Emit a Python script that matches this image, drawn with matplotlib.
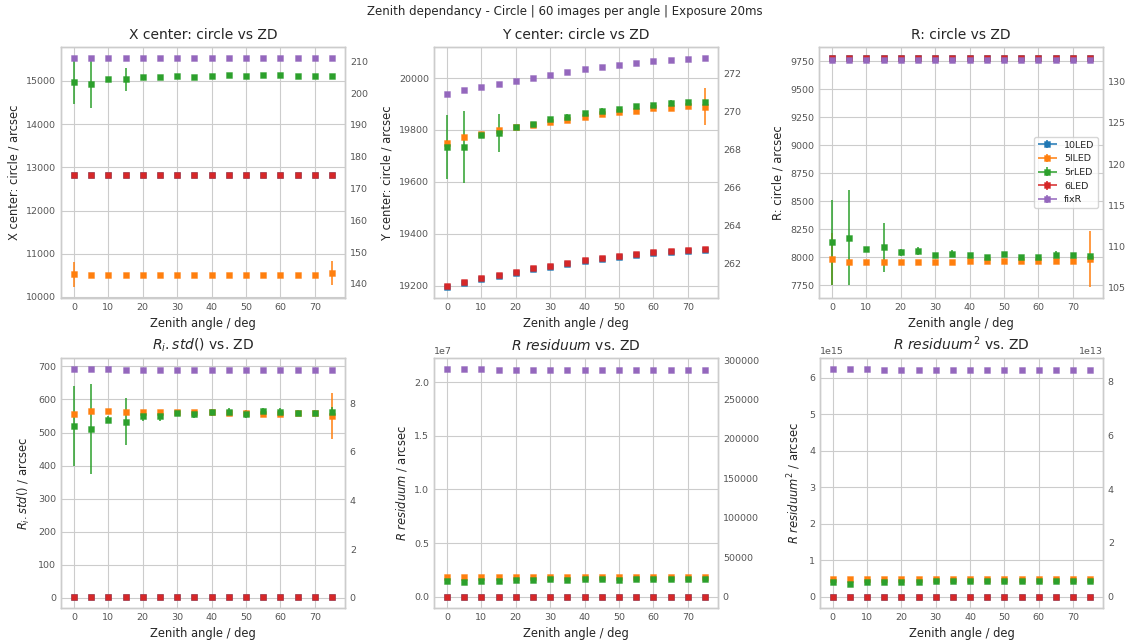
import numpy as np
import matplotlib
matplotlib.use('Agg')
import matplotlib.pyplot as plt
from matplotlib.colors import to_rgba
from matplotlib.container import ErrorbarContainer
from matplotlib.legend_handler import HandlerErrorbar

plt.style.use('seaborn-v0_8-whitegrid')
plt.rcParams['font.family'] = ['DejaVu Sans']

# zenith angles / deg
zd = [0, 5, 10, 15, 20, 25, 30, 35, 40, 45, 50, 55, 60, 65, 70, 75]
labels = ['10LED', '5lLED', '5rLED', '6LED', 'fixR']
colors = ['C0', 'C1', 'C2', 'C3', 'C4']

# arcsec per pixel, for the right hand axis
plate_scale = 73.6

# X center
xc_10led = [12815, 12815, 12815, 12815, 12815, 12815, 12815, 12815, 12815, 12815, 12815, 12815, 12815, 12815, 12815, 12815]
xc_5lled = [10530, 10515, 10515, 10515, 10515, 10515, 10515, 10515, 10515, 10515, 10515, 10515, 10515, 10515, 10515, 10554]
xc_5rled = [14977, 14938, 15055, 15039, 15086, 15086, 15125, 15101, 15125, 15148, 15125, 15148, 15148, 15125, 15125, 15125]
xc_6led = [12816, 12816, 12816, 12816, 12816, 12816, 12816, 12816, 12816, 12816, 12816, 12816, 12816, 12816, 12816, 12816]
xc_fixr = [15521, 15521, 15521, 15521, 15521, 15521, 15521, 15521, 15521, 15521, 15521, 15521, 15521, 15521, 15521, 15521]
xc_5lled_err = [290, 5, 5, 5, 5, 5, 5, 5, 5, 5, 5, 5, 5, 5, 5, 285]
xc_5rled_err = [500, 560, 30, 270, 20, 20, 15, 15, 15, 15, 15, 15, 15, 15, 15, 15]

# Y center
yc_10led = [19196, 19211, 19226, 19237, 19250, 19262, 19273, 19284, 19294, 19302, 19309, 19316, 19324, 19329, 19335, 19338]
yc_5lled = [19750, 19772, 19786, 19799, 19811, 19821, 19830, 19840, 19851, 19860, 19869, 19875, 19883, 19886, 19892, 19889]
yc_5rled = [19735, 19735, 19780, 19788, 19813, 19824, 19844, 19851, 19865, 19875, 19880, 19892, 19898, 19904, 19906, 19909]
yc_6led = [19200, 19215, 19230, 19241, 19254, 19266, 19277, 19288, 19298, 19306, 19313, 19320, 19328, 19333, 19339, 19342]
yc_fixr = [19940, 19953, 19966, 19977, 19989, 20002, 20013, 20025, 20034, 20044, 20049, 20057, 20065, 20070, 20072, 20076]
yc_5lled_err = [10, 10, 5, 5, 5, 5, 5, 5, 5, 5, 5, 5, 5, 5, 5, 71]
yc_5rled_err = [124, 138, 8, 73, 6, 6, 6, 10, 10, 8, 8, 6, 6, 10, 6, 6]

# R
r_10led = [9774, 9774, 9774, 9774, 9774, 9774, 9774, 9774, 9774, 9774, 9774, 9774, 9774, 9774, 9774, 9774]
r_5lled = [7987, 7958, 7958, 7958, 7958, 7958, 7958, 7958, 7967, 7967, 7967, 7967, 7967, 7967, 7967, 7987]
r_5rled = [8136, 8177, 8079, 8091, 8047, 8056, 8023, 8032, 8023, 8005, 8032, 8005, 8005, 8023, 8023, 8014]
r_6led = [9774, 9774, 9774, 9774, 9774, 9774, 9774, 9774, 9774, 9774, 9774, 9774, 9774, 9774, 9774, 9774]
r_fixr = [9756, 9756, 9756, 9756, 9756, 9756, 9756, 9756, 9756, 9756, 9756, 9756, 9756, 9756, 9756, 9756]
r_5lled_err = [230, 5, 5, 5, 5, 5, 5, 5, 5, 5, 5, 5, 5, 5, 5, 247]
r_5rled_err = [380, 423, 15, 218, 30, 37, 15, 30, 15, 15, 15, 15, 15, 30, 15, 15]

# R_i.std()
s_10led = [4, 4, 4, 4, 4, 4, 4, 4, 4, 4, 4, 4, 4, 4, 4, 4]
s_5lled = [555, 566, 566, 563, 563, 563, 563, 563, 563, 560, 560, 557, 557, 560, 560, 549]
s_5rled = [520, 511, 539, 533, 550, 549, 559, 556, 561, 563, 556, 566, 563, 559, 559, 561]
s_6led = [4, 4, 4, 4, 4, 4, 4, 4, 4, 4, 4, 4, 4, 4, 4, 4]
s_fixr = [691, 691, 691, 688, 688, 688, 688, 688, 688, 688, 688, 688, 688, 688, 688, 688]
s_5lled_err = [5, 5, 5, 5, 5, 5, 5, 5, 5, 5, 5, 5, 5, 5, 5, 70]
s_5rled_err = [120, 136, 10, 70, 15, 15, 10, 12, 10, 10, 12, 8, 10, 10, 10, 15]

# R residuum
res_10led = [2e3, 2e3, 2e3, 2e3, 2e3, 2e3, 2e3, 2e3, 2e3, 2e3, 2e3, 2e3, 2e3, 2e3, 2e3, 2e3]
res_5lled = [1.80e6, 1.80e6, 1.80e6, 1.80e6, 1.80e6, 1.80e6, 1.80e6, 1.80e6, 1.80e6, 1.80e6, 1.80e6, 1.80e6, 1.80e6, 1.80e6, 1.80e6, 1.80e6]
res_5rled = [1.46e6, 1.40e6, 1.46e6, 1.46e6, 1.55e6, 1.55e6, 1.65e6, 1.55e6, 1.65e6, 1.65e6, 1.55e6, 1.65e6, 1.65e6, 1.65e6, 1.65e6, 1.65e6]
res_6led = [2e3, 2e3, 2e3, 2e3, 2e3, 2e3, 2e3, 2e3, 2e3, 2e3, 2e3, 2e3, 2e3, 2e3, 2e3, 2e3]
res_fixr = [21.21e6, 21.21e6, 21.21e6, 21.12e6, 21.12e6, 21.12e6, 21.12e6, 21.12e6, 21.12e6, 21.12e6, 21.12e6, 21.12e6, 21.12e6, 21.12e6, 21.12e6, 21.12e6]
res_5rled_err = [1e5, 1.5e5, 5e4, 5e4, 3e4, 3e4, 3e4, 3e4, 3e4, 3e4, 3e4, 3e4, 3e4, 3e4, 3e4, 3e4]

# R residuum^2
res2_10led = [1e12, 1e12, 1e12, 1e12, 1e12, 1e12, 1e12, 1e12, 1e12, 1e12, 1e12, 1e12, 1e12, 1e12, 1e12, 1e12]
res2_5lled = [0.48e15, 0.48e15, 0.48e15, 0.48e15, 0.48e15, 0.48e15, 0.48e15, 0.48e15, 0.48e15, 0.48e15, 0.48e15, 0.48e15, 0.48e15, 0.48e15, 0.48e15, 0.48e15]
res2_5rled = [0.39e15, 0.36e15, 0.41e15, 0.41e15, 0.41e15, 0.41e15, 0.44e15, 0.44e15, 0.44e15, 0.44e15, 0.44e15, 0.44e15, 0.44e15, 0.44e15, 0.44e15, 0.44e15]
res2_6led = [1e12, 1e12, 1e12, 1e12, 1e12, 1e12, 1e12, 1e12, 1e12, 1e12, 1e12, 1e12, 1e12, 1e12, 1e12, 1e12]
res2_fixr = [6.23e15, 6.23e15, 6.23e15, 6.20e15, 6.20e15, 6.20e15, 6.20e15, 6.20e15, 6.20e15, 6.20e15, 6.20e15, 6.20e15, 6.20e15, 6.20e15, 6.20e15, 6.20e15]
res2_5rled_err = [3e13, 5e13, 1e13, 1e13, 1e13, 1e13, 1e13, 1e13, 1e13, 1e13, 1e13, 1e13, 1e13, 1e13, 1e13, 1e13]

zeros = [0] * len(zd)

panels = [
	('X center: circle vs ZD', 'X center: circle / arcsec',
	 [xc_10led, xc_5lled, xc_5rled, xc_6led, xc_fixr],
	 [zeros, xc_5lled_err, xc_5rled_err, zeros, zeros]),
	('Y center: circle vs ZD', 'Y center: circle / arcsec',
	 [yc_10led, yc_5lled, yc_5rled, yc_6led, yc_fixr],
	 [zeros, yc_5lled_err, yc_5rled_err, zeros, zeros]),
	('R: circle vs ZD', 'R: circle / arcsec',
	 [r_10led, r_5lled, r_5rled, r_6led, r_fixr],
	 [zeros, r_5lled_err, r_5rled_err, zeros, zeros]),
	(r'$R_i.std()$ vs. ZD', r'$R_i.std()$ / arcsec',
	 [s_10led, s_5lled, s_5rled, s_6led, s_fixr],
	 [zeros, s_5lled_err, s_5rled_err, zeros, zeros]),
	(r'$R\ residuum$ vs. ZD', r'$R\ residuum$ / arcsec',
	 [res_10led, res_5lled, res_5rled, res_6led, res_fixr],
	 [zeros, zeros, res_5rled_err, zeros, zeros]),
	(r'$R\ residuum^2$ vs. ZD', r'$R\ residuum^2$ / arcsec',
	 [res2_10led, res2_5lled, res2_5rled, res2_6led, res2_fixr],
	 [zeros, zeros, res2_5rled_err, zeros, zeros]),
]

W, H = 1129., 643.
# axes boxes in pixels: left, top, right, bottom
boxes = [(61, 47, 345, 298), (434, 47, 718, 298), (819, 47, 1103, 298),
	(61, 358, 345, 608), (434, 358, 718, 608), (820, 358, 1103, 608)]

tick_grey = '#555555'

fig = plt.figure(figsize=(W / 100, H / 100), dpi=100)
fig.suptitle('Zenith dependancy - Circle | 60 images per angle | Exposure 20ms',
	fontsize=8.5, y=1 - 12 / H, va='center')

for i, (title, ylabel, series, errs) in enumerate(panels):
	l, t, r, b = boxes[i]
	ax = fig.add_axes([l / W, 1 - b / H, (r - l) / W, (b - t) / H])
	for y, e, lab, c in zip(series, errs, labels, colors):
		ax.errorbar(zd, y, xerr=zeros, yerr=e, fmt='s', ms=4.4, mew=0.6,
			mec=to_rgba(c, 0.45), elinewidth=1.1, capsize=0, color=c, label=lab)
	ax.set_title(title, fontsize=10)
	ax.set_ylabel(ylabel, fontsize=8.3)
	ax.set_xlabel('Zenith angle / deg', fontsize=8.3)
	ax.tick_params(labelsize=6.8, labelcolor=tick_grey)
	ax.yaxis.get_offset_text().set_fontsize(6.8)
	ax.yaxis.get_offset_text().set_color(tick_grey)
	ax.set_xticks([0, 10, 20, 30, 40, 50, 60, 70])
	if i == 2:
		ax.legend(loc='center right', frameon=True, fontsize=6.8,
			handler_map={ErrorbarContainer: HandlerErrorbar(xerr_size=1.0, yerr_size=0.45)})

	# second axis in pixels
	ax2 = ax.twinx()
	ax2.grid(False)
	ax2.set_ylim(np.array(ax.get_ylim()) / plate_scale)
	ax2.tick_params(labelsize=6.8, labelcolor=tick_grey)
	ax2.yaxis.get_offset_text().set_fontsize(6.8)
	ax2.yaxis.get_offset_text().set_color(tick_grey)

fig.savefig('out.png', dpi=100)
